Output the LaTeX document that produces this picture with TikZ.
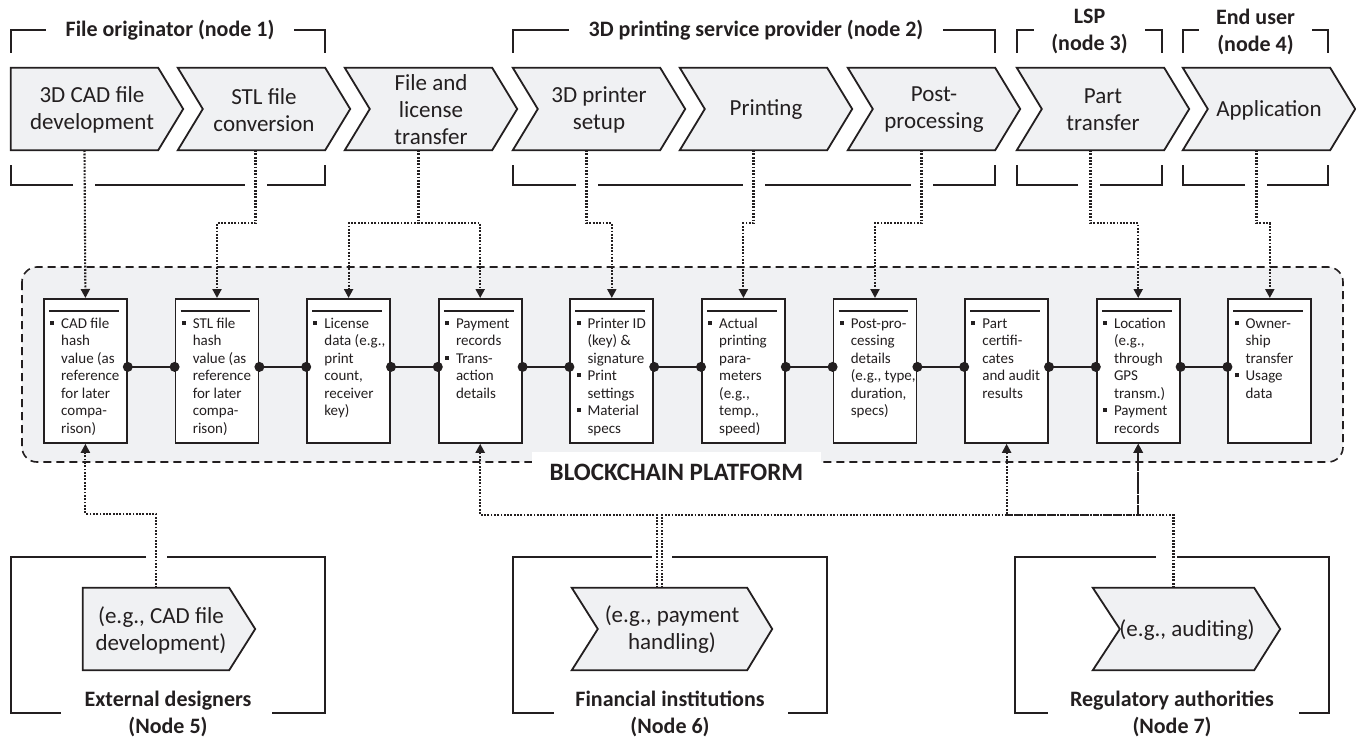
\documentclass[tikz,border=0pt]{standalone}
\usepackage{fontspec}
\setmainfont{Carlito}
\usetikzlibrary{calc,arrows.meta}
\definecolor{ink}{HTML}{231F20}
\definecolor{pale}{HTML}{F0F1F3}
\newcommand{\bul}{\makebox[11pt][l]{\rule[3.5pt]{4pt}{4pt}}}
\newcommand{\ind}{\makebox[11pt]{}}
\newcommand{\rl}{\rule{0pt}{10.5pt}}
\tikzset{
  shapeline/.style={draw=ink,line width=1.8pt,line join=miter,fill=pale},
  chevbody/.style={minimum width=147pt,minimum height=82pt,inner sep=0pt,draw=none},
  chevtext/.style={align=center,font=\fontsize{23}{27}\selectfont,text=ink,inner sep=0pt},
  lbl/.style={align=center,font=\bfseries\fontsize{22}{27}\selectfont,text=ink,inner xsep=20pt,inner ysep=0pt},
  bracket/.style={draw=ink,line width=1.6pt},
  databox/.style={draw=ink,line width=1.8pt,fill=white,anchor=north west,minimum width=83pt,minimum height=144pt,inner sep=0pt},
  hdr/.style={draw=ink,line width=1.6pt},
  boxtext/.style={anchor=north west,align=left,inner sep=0pt,font=\fontsize{15}{17.5}\selectfont,text=ink},
  link/.style={draw=ink,line width=1.8pt},
  dotline/.style={draw=ink,line width=2.1pt,dash pattern=on 1.8pt off 1.5pt},
  dotarrow/.style={dotline,-{Triangle[width=9pt,length=9pt]}},
  platform/.style={draw=ink,line width=1.6pt,dash pattern=on 8pt off 5pt,fill=pale,rounded corners=15pt},
}
\newcommand{\chevN}[3]{%
  \node[chevbody] (#1) at (#2+73.5,109) {};
  \path[shapeline] (#1.north west) -- (#1.north east) -- ($(#1.east)+(25,0)$) -- (#1.south east) -- (#1.south west) -- ($(#1.west)+(25,0)$) -- cycle;
  \node[chevtext] (#1t) at (#2+86,110) {#3};
}
\begin{document}
\begin{tikzpicture}[x=1pt,y=-1pt]
\useasboundingbox (0,0) rectangle (1356,738);

% ---------- top brackets ----------
\draw[bracket] (11,53) -- (11,30) -- (325,30) -- (325,53);
\node[lbl,fill=white] (n1) at (170,30) {File originator (node 1)};
\draw[bracket] (513,53) -- (513,30) -- (995,30) -- (995,53);
\node[lbl,fill=white] (n2) at (756,30) {3D printing service provider (node 2)};
\draw[bracket] (1017,53) -- (1017,30) -- (1162,30) -- (1162,53);
\node[lbl,fill=white,inner xsep=17pt] (n3) at (1089.5,31.5) {LSP\\(node 3)};
\draw[bracket] (1183,53) -- (1183,30) -- (1328,30) -- (1328,53);
\node[lbl,fill=white,inner xsep=17pt] (n4) at (1255.5,31.5) {End user\\(node 4)};

\draw[bracket] (73,185) -- (11,185) -- (11,165);
\draw[bracket] (95,185) -- (245,185);
\draw[bracket] (267,185) -- (325,185) -- (325,165);
\draw[bracket] (576,185) -- (513,185) -- (513,165);
\draw[bracket] (598,185) -- (743,185);
\draw[bracket] (765,185) -- (911,185);
\draw[bracket] (933,185) -- (995,185) -- (995,165);
\draw[bracket] (1078,185) -- (1017,185) -- (1017,165);
\draw[bracket] (1100,185) -- (1162,185) -- (1162,165);
\draw[bracket] (1245,185) -- (1183,185) -- (1183,165);
\draw[bracket] (1267,185) -- (1328,185) -- (1328,165);

% ---------- process chevrons ----------
\node[chevbody] (c1) at (84.5,109) {};
\path[shapeline] (c1.north west) -- (c1.north east) -- ($(c1.east)+(25,0)$) -- (c1.south east) -- (c1.south west) -- cycle;
\node[chevtext] (c1t) at (92,110) {3D CAD file\\development};
\chevN{c2}{178}{STL file\\conversion}
\chevN{c3}{345}{File and\\license\\transfer}
\chevN{c4}{513}{3D printer\\setup}
\chevN{c5}{680}{Printing}
\chevN{c6}{848}{Post-\\processing}
\chevN{c7}{1017}{Part\\transfer}
\chevN{c8}{1183}{Application}

% ---------- blockchain platform ----------
\path[platform] (22,267) rectangle (1343,462);
\node[fill=white,minimum width=289pt,minimum height=40pt,inner sep=0pt,text=ink,font=\bfseries\fontsize{25}{28}\selectfont] (bc) at (676.5,472) {BLOCKCHAIN PLATFORM};

% ---------- data boxes ----------
\node[databox] (b1) at (43,298) {};
\node[databox] (b2) at (174.6,298) {};
\node[databox] (b3) at (306.2,298) {};
\node[databox] (b4) at (437.8,298) {};
\node[databox] (b5) at (569.4,298) {};
\node[databox] (b6) at (701,298) {};
\node[databox] (b7) at (832.6,298) {};
\node[databox] (b8) at (964.2,298) {};
\node[databox] (b9) at (1095.8,298) {};
\node[databox] (b10) at (1227.4,298) {};
\foreach \b in {b1,b2,b3,b4,b5,b6,b7,b8,b9,b10}{
  \draw[hdr] ([xshift=6pt,yshift=-13pt]\b.north west) -- ([xshift=-9pt,yshift=-13pt]\b.north east);
}
\node[boxtext] (t1) at ([xshift=7pt,yshift=-19.5pt]b1.north west) {\rl\bul CAD file\\\ind hash\\\ind value (as\\\ind reference\\\ind for later\\\ind compa-\\\ind rison)};
\node[boxtext] (t2) at ([xshift=7pt,yshift=-19.5pt]b2.north west) {\rl\bul STL file\\\ind hash\\\ind value (as\\\ind reference\\\ind for later\\\ind compa-\\\ind rison)};
\node[boxtext] (t3) at ([xshift=7pt,yshift=-19.5pt]b3.north west) {\rl\bul License\\\ind data (e.g.,\\\ind print\\\ind count,\\\ind receiver\\\ind key)};
\node[boxtext] (t4) at ([xshift=7pt,yshift=-19.5pt]b4.north west) {\rl\bul Payment\\\ind records\\\bul Trans-\\\ind action\\\ind details};
\node[boxtext] (t5) at ([xshift=7pt,yshift=-19.5pt]b5.north west) {\rl\bul Printer ID\\\ind (key) \&\\\ind signature\\\bul Print\\\ind settings\\\bul Material\\\ind specs};
\node[boxtext] (t6) at ([xshift=7pt,yshift=-19.5pt]b6.north west) {\rl\bul Actual\\\ind printing\\\ind para-\\\ind meters\\\ind (e.g.,\\\ind temp.,\\\ind speed)};
\node[boxtext] (t7) at ([xshift=7pt,yshift=-19.5pt]b7.north west) {\rl\bul Post-pro-\\\ind cessing\\\ind details\\\ind (e.g., type,\\\ind duration,\\\ind specs)};
\node[boxtext] (t8) at ([xshift=7pt,yshift=-19.5pt]b8.north west) {\rl\bul Part\\\ind certifi-\\\ind cates\\\ind and audit\\\ind results};
\node[boxtext] (t9) at ([xshift=7pt,yshift=-19.5pt]b9.north west) {\rl\bul Location\\\ind (e.g.,\\\ind through\\\ind GPS\\\ind transm.)\\\bul Payment\\\ind records};
\node[boxtext] (t10) at ([xshift=7pt,yshift=-19.5pt]b10.north west) {\rl\bul Owner-\\\ind ship\\\ind transfer\\\bul Usage\\\ind data};

\foreach \a/\b in {b1/b2,b2/b3,b3/b4,b4/b5,b5/b6,b6/b7,b7/b8,b8/b9,b9/b10}{
  \draw[link] ([yshift=4pt]\a.east) -- ([yshift=4pt]\b.west);
  \fill[ink] ([yshift=4pt]\a.east) circle (5pt);
  \fill[ink] ([yshift=4pt]\b.west) circle (5pt);
}

% ---------- top connectors ----------
\draw[dotarrow] (c1.south) -- (b1.north);
\draw[dotarrow] ([xshift=4pt]c2.south) -- ++(0,73) -| (b2.north);
\draw[dotarrow] (c3.south) -- ++(0,73) -| (b3.north);
\draw[dotarrow] (c3.south) -- ++(0,73) -| (b4.north);
\draw[dotarrow] (c4.south) -- ++(0,73) -| (b5.north);
\draw[dotarrow] (c5.south) -- ++(0,73) -| (b6.north);
\draw[dotarrow] (c6.south) -- ++(0,73) -| (b7.north);
\draw[dotarrow] (c7.south) -- ++(0,73) -| (b9.north);
\draw[dotarrow] (c8.south) -- ++(0,73) -| (b10.north);

% ---------- bottom actors ----------
\draw[bracket] (146,557) -- (11,557) -- (11,713) -- (61,713);
\draw[bracket] (167,557) -- (325,557) -- (325,713) -- (272,713);
\node[lbl] (n5) at (168,714) {External designers\\(Node 5)};
\node[chevbody,minimum width=146pt] (ext) at (156,629) {};
\path[shapeline] (ext.north west) -- (ext.north east) -- ($(ext.east)+(26,0)$) -- (ext.south east) -- (ext.south west) -- cycle;
\node[chevtext] (extt) at (161,630) {(e.g., CAD file\\development)};

\draw[bracket] (652,557) -- (513,557) -- (513,713) -- (554,713);
\draw[bracket] (672,557) -- (827,557) -- (827,713) -- (788,713);
\node[lbl] (n6) at (670,714) {Financial institutions\\(Node 6)};
\node[chevbody,minimum width=175pt] (fin) at (659.5,629) {};
\path[shapeline] (fin.north west) -- (fin.north east) -- ($(fin.east)+(25,0)$) -- (fin.south east) -- (fin.south west) -- ($(fin.west)+(26,0)$) -- cycle;
\node[chevtext] (fint) at (672,630) {(e.g., payment\\handling)};

\draw[bracket] (1156,557) -- (1015,557) -- (1015,713) -- (1048,713);
\draw[bracket] (1177,557) -- (1329,557) -- (1329,713) -- (1299,713);
\node[lbl] (n7) at (1172,714) {Regulatory authorities\\(Node 7)};
\node[chevbody,minimum width=161pt] (reg) at (1173.5,629) {};
\path[shapeline] (reg.north west) -- (reg.north east) -- ($(reg.east)+(26,0)$) -- (reg.south east) -- (reg.south west) -- ($(reg.west)+(27,0)$) -- cycle;
\node[chevtext] (regt) at (1187,630) {(e.g., auditing)};

% ---------- bottom connectors ----------
\draw[dotarrow] (ext.north) -- ++(0,-74) -| (b1.south);
\draw[dotarrow] ([xshift=-2.5pt]fin.north) -- ++(0,-73) -| (b4.south);
\draw[dotarrow] ([xshift=2.5pt]fin.north) -- ++(0,-73) -| (b9.south);
\draw[dotarrow] (reg.north) -- ++(0,-73) -| (b8.south);
\draw[dotarrow] (reg.north) -- ++(0,-73) -| (b9.south);
\end{tikzpicture}
\end{document}
